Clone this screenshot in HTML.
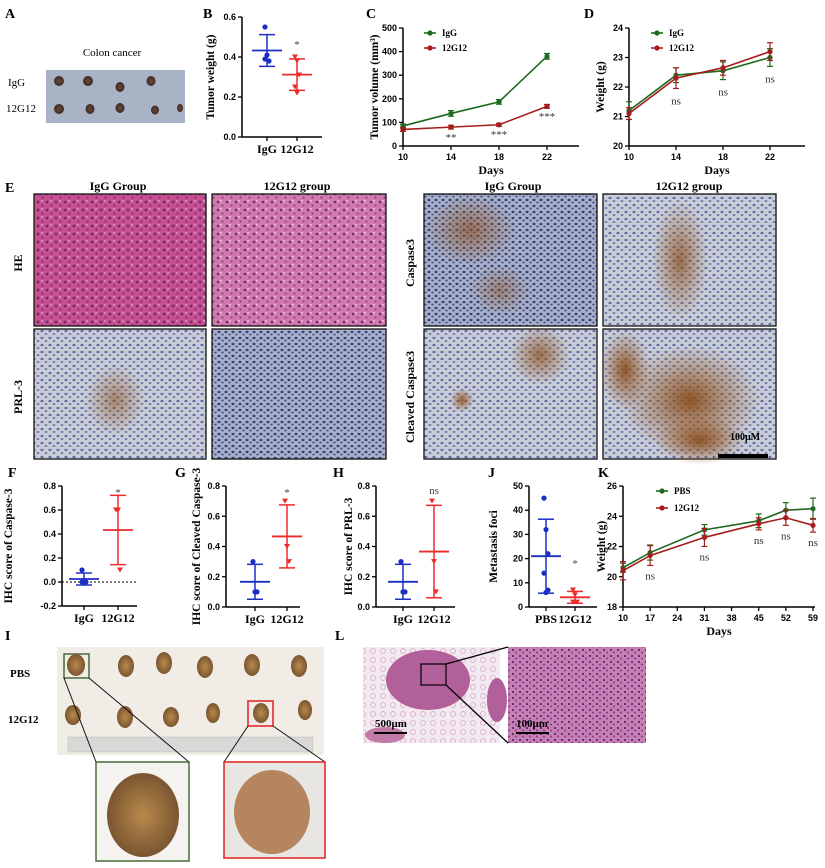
<!DOCTYPE html>
<html><head><meta charset="utf-8"><style>
html,body{margin:0;padding:0;background:#fff;}
svg{display:block;font-family:"Liberation Serif",serif;}
.lbl{font-weight:bold;font-size:14px;}
.tk{font-family:"Liberation Sans",sans-serif;font-weight:bold;font-size:9px;}
.tt{font-weight:bold;font-size:11.5px;}
.gl{font-weight:bold;font-size:12px;}
</style></head><body>
<svg id="fig" width="825" height="868" viewBox="0 0 825 868" xmlns="http://www.w3.org/2000/svg">
<defs>
<pattern id="heP" width="9" height="8" patternUnits="userSpaceOnUse"><rect width="9" height="8" fill="#c9508f"/><circle cx="2" cy="2" r="1.4" fill="#6a2a78"/><circle cx="6.5" cy="5.5" r="1.2" fill="#7d3488"/><circle cx="6" cy="1" r="0.8" fill="#f2c6dc"/></pattern>
<pattern id="he2P" width="9" height="8" patternUnits="userSpaceOnUse"><rect width="9" height="8" fill="#d27aad"/><circle cx="2" cy="2" r="1.3" fill="#6a2a78"/><circle cx="6.5" cy="5.5" r="1.1" fill="#86428f"/><circle cx="5" cy="1" r="0.9" fill="#f4d3e4"/></pattern>
<pattern id="ihcP" width="8" height="7" patternUnits="userSpaceOnUse"><rect width="8" height="7" fill="#c9ccd6"/><ellipse cx="2" cy="2" rx="1.6" ry="1.1" fill="#5a6ea8"/><ellipse cx="6" cy="5" rx="1.4" ry="1" fill="#6a7db2"/></pattern>
<pattern id="ihc2P" width="7" height="6" patternUnits="userSpaceOnUse"><rect width="7" height="6" fill="#a9b0c8"/><ellipse cx="2" cy="2" rx="1.6" ry="1.2" fill="#33447e"/><ellipse cx="5.5" cy="4.5" rx="1.3" ry="1" fill="#44558f"/></pattern>
<pattern id="lungP" width="10" height="9" patternUnits="userSpaceOnUse"><rect width="10" height="9" fill="#f3e9f0"/><circle cx="3" cy="3" r="2.5" fill="none" stroke="#d7a6c6" stroke-width="0.7"/></pattern>
<pattern id="hiP" width="7" height="6" patternUnits="userSpaceOnUse"><rect width="7" height="6" fill="#c880b4"/><circle cx="2" cy="2" r="1.1" fill="#5b2a70"/><circle cx="5" cy="4.5" r="1" fill="#7a3a88"/></pattern>
<radialGradient id="brownG"><stop offset="0" stop-color="#8a4e1f" stop-opacity="0.95"/><stop offset="1" stop-color="#a0642e" stop-opacity="0"/></radialGradient>
<radialGradient id="tumG"><stop offset="0" stop-color="#6a4a3c"/><stop offset="1" stop-color="#3d2a22"/></radialGradient>
<radialGradient id="liverG"><stop offset="0" stop-color="#b98a4c"/><stop offset="1" stop-color="#7a5530"/></radialGradient>
</defs>

<!-- Panel A -->
<text class="lbl" x="5" y="18">A</text>
<text x="112" y="56" font-size="11" text-anchor="middle">Colon cancer</text>
<rect x="46" y="70" width="139" height="53" fill="#a8b4c6"/>
<g fill="url(#tumG)">
<ellipse cx="59" cy="81" rx="5" ry="5"/><ellipse cx="88" cy="81" rx="5" ry="5"/><ellipse cx="120" cy="87" rx="4.5" ry="5"/><ellipse cx="151" cy="81" rx="4.5" ry="5"/>
<ellipse cx="59" cy="109" rx="5" ry="5"/><ellipse cx="90" cy="109" rx="4.5" ry="5"/><ellipse cx="120" cy="108" rx="4.5" ry="5"/><ellipse cx="155" cy="110" rx="4" ry="4.5"/><ellipse cx="180" cy="108" rx="3" ry="4"/>
</g>
<text x="8" y="86" font-size="11">IgG</text>
<text x="6" y="112" font-size="11">12G12</text>

<text class="lbl" x="203" y="18">B</text>
<text class="lbl" x="366" y="18">C</text>
<text class="lbl" x="584" y="18">D</text>

<!-- Panel E -->
<text class="lbl" x="5" y="192">E</text>
<g class="gl" text-anchor="middle" font-size="11">
<text x="118" y="190">IgG Group</text>
<text x="297" y="190">12G12 group</text>
<text x="513" y="190">IgG Group</text>
<text x="689" y="190">12G12 group</text>
</g>
<g class="gl" text-anchor="middle" font-size="11">
<text transform="translate(22,263) rotate(-90)">HE</text>
<text transform="translate(22,397) rotate(-90)">PRL-3</text>
<text transform="translate(414,263) rotate(-90)">Caspase3</text>
<text transform="translate(414,397) rotate(-90)">Cleaved Caspase3</text>
</g>
<g stroke="#111" stroke-width="1.3">
<rect x="34" y="194" width="172" height="132" fill="url(#heP)"/>
<rect x="212" y="194" width="174" height="132" fill="url(#he2P)"/>
<rect x="34" y="329" width="172" height="130" fill="url(#ihcP)"/>
<rect x="212" y="329" width="174" height="130" fill="url(#ihc2P)"/>
<rect x="424" y="194" width="173" height="132" fill="url(#ihc2P)"/>
<rect x="603" y="194" width="173" height="132" fill="url(#ihcP)"/>
<rect x="424" y="329" width="173" height="130" fill="url(#ihcP)"/>
<rect x="603" y="329" width="173" height="130" fill="url(#ihcP)"/>
</g>
<g fill="url(#brownG)">
<ellipse cx="115" cy="400" rx="30" ry="35" opacity="0.6"/>
<ellipse cx="470" cy="230" rx="45" ry="35" opacity="0.7"/><ellipse cx="500" cy="290" rx="30" ry="25" opacity="0.5"/>
<ellipse cx="680" cy="260" rx="28" ry="60" opacity="0.8"/>
<ellipse cx="540" cy="355" rx="30" ry="30" opacity="0.8"/><ellipse cx="462" cy="400" rx="12" ry="12" opacity="0.9"/>
<ellipse cx="690" cy="400" rx="70" ry="55"/><ellipse cx="625" cy="370" rx="25" ry="40"/><ellipse cx="700" cy="440" rx="45" ry="25"/>
</g>
<text x="745" y="440" font-size="10" font-weight="bold" text-anchor="middle">100μM</text>
<rect x="718" y="454" width="50" height="4" fill="#000"/>

<text class="lbl" x="8" y="477">F</text>
<text class="lbl" x="175" y="477">G</text>
<text class="lbl" x="333" y="477">H</text>
<text class="lbl" x="488" y="477">J</text>
<text class="lbl" x="598" y="477">K</text>

<!-- Panel I -->
<text class="lbl" x="5" y="640">I</text>
<text class="lbl" x="335" y="640">L</text>
<text x="10" y="677" font-size="11" font-weight="bold">PBS</text>
<text x="8" y="723" font-size="11" font-weight="bold">12G12</text>
<rect x="57" y="647" width="267" height="108" fill="#f1ece6"/>
<rect x="68" y="737" width="245" height="15" fill="#d8d8d6" stroke="#bbb" stroke-width="0.5"/>
<g fill="url(#liverG)">
<ellipse cx="76" cy="665" rx="9" ry="11"/><ellipse cx="126" cy="666" rx="8" ry="11"/><ellipse cx="164" cy="663" rx="8" ry="11"/><ellipse cx="205" cy="667" rx="8" ry="11"/><ellipse cx="252" cy="665" rx="8" ry="11"/><ellipse cx="299" cy="666" rx="8" ry="11"/>
<ellipse cx="73" cy="715" rx="8" ry="10"/><ellipse cx="125" cy="717" rx="8" ry="11"/><ellipse cx="171" cy="717" rx="8" ry="10"/><ellipse cx="213" cy="713" rx="7" ry="10"/><ellipse cx="261" cy="713" rx="8" ry="10"/><ellipse cx="305" cy="710" rx="7" ry="10"/>
</g>
<rect x="64" y="654" width="25" height="24" fill="none" stroke="#4a6a3a" stroke-width="1.5"/>
<rect x="248" y="701" width="25" height="25" fill="none" stroke="#e02020" stroke-width="1.5"/>
<g stroke="#111" stroke-width="1">
<line x1="64" y1="678" x2="96" y2="762"/><line x1="89" y1="678" x2="189" y2="762"/>
<line x1="248" y1="726" x2="224" y2="762"/><line x1="273" y1="726" x2="325" y2="762"/>
</g>
<rect x="96" y="762" width="93" height="99" fill="#f5f3f0" stroke="#4a6a3a" stroke-width="1.5"/>
<ellipse cx="143" cy="815" rx="36" ry="42" fill="url(#liverG)"/>
<rect x="224" y="762" width="101" height="96" fill="#e8e6e3" stroke="#e02020" stroke-width="1.5"/>
<ellipse cx="272" cy="812" rx="38" ry="42" fill="#b58560"/>

<!-- Panel L -->
<rect x="363" y="647" width="137" height="96" fill="url(#lungP)"/>
<ellipse cx="428" cy="680" rx="42" ry="30" fill="#b2609a"/>
<ellipse cx="497" cy="700" rx="10" ry="22" fill="#b2609a"/>
<ellipse cx="385" cy="735" rx="20" ry="8" fill="#c27aa8"/>
<rect x="508" y="647" width="138" height="96" fill="url(#hiP)"/>
<rect x="421" y="664" width="25" height="21" fill="none" stroke="#000" stroke-width="1.2"/>
<g stroke="#000" stroke-width="1.2"><line x1="446" y1="664" x2="508" y2="647"/><line x1="446" y1="685" x2="508" y2="743"/></g>
<text x="391" y="727" font-size="11" font-weight="bold" text-anchor="middle">500μm</text>
<rect x="374" y="732" width="33" height="2" fill="#000"/>
<text x="532" y="727" font-size="11" font-weight="bold" text-anchor="middle">100μm</text>
<rect x="516" y="732" width="33" height="2" fill="#000"/>
</svg>
<script>
// ---- data ----
const bGroups = ["IgG","12G12"];
const bIgG = [0.55,0.41,0.38,0.39];
const b12G12 = [0.40,0.38,0.31,0.25,0.22];
const bTicks = [0,0.2,0.4,0.6];

const cDays = [10,14,18,22];
const cIgG = [85,138,187,380];
const cIgGErr = [8,12,10,12];
const c12G12 = [70,80,90,168];
const c12G12Err = [8,8,6,8];
const cTicks = [0,100,200,300,400,500];
const cStars = ["","**","***","***"];

const dDays = [10,14,18,22];
const dIgG = [21.2,22.4,22.55,23.0];
const dIgGErr = [0.3,0.25,0.3,0.3];
const d12G12 = [21.1,22.3,22.65,23.2];
const d12G12Err = [0.2,0.35,0.25,0.3];
const dTicks = [20,21,22,23,24];
const dStars = ["","ns","ns","ns"];

const fIgG = [0.1,0.0,0.0,0.0];
const f12G12 = [0.6,0.6,0.1];
const fTicks = [-0.2,0,0.2,0.4,0.6,0.8];
const gIgG = [0.3,0.1,0.1];
const g12G12 = [0.7,0.4,0.3];
const gTicks = [0,0.2,0.4,0.6,0.8];
const hIgG = [0.3,0.1,0.1];
const h12G12 = [0.7,0.3,0.1];
const hTicks = [0,0.2,0.4,0.6,0.8];
const jGroups = ["PBS","12G12"];
const jPBS = [45,32,22,14,6,7];
const j12G12 = [7,5,2,2];
const jTicks = [0,10,20,30,40,50];

const kDays = [10,17,31,45,52,59];
const kPBS = [20.6,21.6,23.1,23.7,24.4,24.5];
const kPBSErr = [0.3,0.5,0.35,0.45,0.5,0.7];
const k12G12 = [20.4,21.4,22.6,23.5,23.9,23.4];
const k12G12Err = [0.6,0.65,0.6,0.4,0.5,0.45];
const kTicks = [18,20,22,24,26];
const kXTicks = [10,17,24,31,38,45,52,59];
const kStars = ["","ns","ns","ns","ns","ns"];

// ---- helpers ----
const NS="http://www.w3.org/2000/svg";
const fig=document.getElementById('fig');
function mk(tag,attrs,parent){const e=document.createElementNS(NS,tag);for(const k in attrs)e.setAttribute(k,attrs[k]);(parent||fig).appendChild(e);return e;}
function txt(s,attrs,parent){const e=mk('text',attrs,parent);e.textContent=s;return e;}
function mean(a){return a.reduce((s,v)=>s+v,0)/a.length;}
function sd(a){const m=mean(a);return Math.sqrt(a.reduce((s,v)=>s+(v-m)*(v-m),0)/(a.length-1));}

function yAxis(g,ax,yTop,yBot,vmin,vmax,ticks,fmt){
  const Y=v=>yBot-(v-vmin)/(vmax-vmin)*(yBot-yTop);
  mk('line',{x1:ax,y1:yTop,x2:ax,y2:yBot,stroke:'#000','stroke-width':1.5},g);
  ticks.forEach(t=>{
    mk('line',{x1:ax-4,y1:Y(t),x2:ax,y2:Y(t),stroke:'#000','stroke-width':1.3},g);
    const l=txt(fmt(t),{x:ax-6,y:Y(t)+3,'text-anchor':'end',class:'tk'},g);
    
    
  });
  return Y;
}

function dotChart(name,o){
  const g=mk('g',{});
  
  
  const Y=yAxis(g,o.ax,o.yTop,o.yBot,o.vmin,o.vmax,o.ticks,o.fmt);
  mk('line',{x1:o.ax,y1:o.yBot,x2:o.xEnd,y2:o.yBot,stroke:'#000','stroke-width':1.5},g);
  const tt=txt(o.title,{transform:`translate(${o.tx},${(o.yTop+o.yBot)/2}) rotate(-90)`,'text-anchor':'middle',class:'tt'},g);
  
  
  if(o.zero){mk('line',{x1:o.ax,y1:Y(0),x2:o.xEnd,y2:Y(0),stroke:'#000','stroke-width':1,'stroke-dasharray':'2,2'},g);}
  o.series.forEach((s,i)=>{
    const x=o.xs[i];
    mk('line',{x1:x,y1:o.yBot,x2:x,y2:o.yBot+4,stroke:'#000','stroke-width':1.3},g);
    const gl=txt(o.groups[i],{x:x,y:o.yBot+16,'text-anchor':'middle',class:'gl'},g);
    
    
    const c=o.colors[i];
    s.forEach((v,k)=>{
      const dx=((k%3)-1)*2;
      let p;
      if(i===0){p=mk('circle',{cx:x+dx,cy:Y(v),r:2.6,fill:c},g);}
      else{const yy=Y(v);p=mk('path',{d:`M${x+dx-3},${yy-2.5}L${x+dx+3},${yy-2.5}L${x+dx},${yy+2.5}Z`,fill:c},g);}
      
      
    });
    const m=mean(s),d=sd(s);
    const mn=mk('line',{x1:x-15,y1:Y(m),x2:x+15,y2:Y(m),stroke:c,'stroke-width':1.8},g);
    
    
    mk('line',{x1:x,y1:Y(m+d),x2:x,y2:Y(m-d),stroke:c,'stroke-width':1.5},g);
    mk('line',{x1:x-8,y1:Y(m+d),x2:x+8,y2:Y(m+d),stroke:c,'stroke-width':1.5},g);
    mk('line',{x1:x-8,y1:Y(m-d),x2:x+8,y2:Y(m-d),stroke:c,'stroke-width':1.5},g);
  });
  if(o.sig){const s=txt(o.sig,{x:o.xs[1],y:o.sigY,'text-anchor':'middle','font-size':11,fill:'#444'},g);
    
    }
}

function lineChart(name,o){
  const g=mk('g',{});
  
  
  const Y=yAxis(g,o.ax,o.yTop,o.yBot,o.vmin,o.vmax,o.ticks,o.fmt);
  const X=d=>o.ax+(d-o.dmin)/(o.dmax-o.dmin)*(o.xMaxPx-o.ax);
  mk('line',{x1:o.ax,y1:o.yBot,x2:o.xEnd,y2:o.yBot,stroke:'#000','stroke-width':1.5},g);
  o.xticks.forEach(t=>{
    mk('line',{x1:X(t),y1:o.yBot,x2:X(t),y2:o.yBot+4,stroke:'#000','stroke-width':1.3},g);
    const l=txt(String(t),{x:Math.min(X(t),818),y:o.yBot+14,'text-anchor':'middle',class:'tk'},g);
    
    
  });
  const xt=txt('Days',{x:(o.ax+o.xEnd)/2,y:o.yBot+28,'text-anchor':'middle',class:'gl'},g);
  
  
  const tt=txt(o.title,{transform:`translate(${o.tx},${(o.yTop+o.yBot)/2}) rotate(-90)`,'text-anchor':'middle',class:'tt'},g);
  
  
  o.series.forEach((s,i)=>{
    const c=o.colors[i];
    const pts=s.vals.map((v,k)=>X(o.days[k])+','+Y(v)).join(' ');
    const pl=mk('polyline',{points:pts,fill:'none',stroke:c,'stroke-width':1.6},g);
    
    
    s.vals.forEach((v,k)=>{
      const x=X(o.days[k]),e=s.err[k];
      mk('line',{x1:x,y1:Y(v+e),x2:x,y2:Y(v-e),stroke:c,'stroke-width':1.2},g);
      mk('line',{x1:x-3,y1:Y(v+e),x2:x+3,y2:Y(v+e),stroke:c,'stroke-width':1.2},g);
      mk('line',{x1:x-3,y1:Y(v-e),x2:x+3,y2:Y(v-e),stroke:c,'stroke-width':1.2},g);
      const p=mk('circle',{cx:x,cy:Y(v),r:2.6,fill:c},g);
      
      
    });
    const ly=o.legY+i*o.legGap;
    mk('line',{x1:o.legX,y1:ly,x2:o.legX+12,y2:ly,stroke:c,'stroke-width':1.6},g);
    mk('circle',{cx:o.legX+6,cy:ly,r:2.6,fill:c},g);
    const lt=txt(s.name,{x:o.legX+18,y:ly+3,'font-size':9,'font-weight':'bold'},g);
    
    
  });
  o.stars.forEach((s,k)=>{
    if(!s)return;
    const v=Math.min(o.series[0].vals[k]-o.series[0].err[k],o.series[1].vals[k]-o.series[1].err[k]);
    const st=txt(s,{x:X(o.days[k])+(o.starDx||0),y:Y(v)+o.starOff,'text-anchor':'middle','font-size':11,fill:'#333'},g);
    
    
  });
}

const f1=v=>v.toFixed(1);
const f0=v=>String(v);
const BLUE='#1c2fc4',RED='#ee2a2a',GREEN='#1e6a1e',DRED='#a61c1c';

dotChart('chart-b-tumor-weight',{ax:242,yTop:17,yBot:137,vmin:0,vmax:0.6,ticks:bTicks,fmt:f1,xEnd:322,xs:[267,297],groups:bGroups,series:[bIgG,b12G12],colors:[BLUE,RED],title:'Tumor weight (g)',tx:214,sig:'*',sigY:48});
lineChart('chart-c-tumor-volume',{ax:403,yTop:28,yBot:146,vmin:0,vmax:500,ticks:cTicks,fmt:f0,dmin:10,dmax:22,xMaxPx:547,xEnd:579,xticks:cDays,days:cDays,
  series:[{name:'IgG',vals:cIgG,err:cIgGErr},{name:'12G12',vals:c12G12,err:c12G12Err}],colors:[GREEN,DRED],title:'Tumor volume (mm³)',tx:378,legX:424,legY:33,legGap:15,stars:cStars,starOff:12});
lineChart('chart-d-body-weight',{ax:629,yTop:28,yBot:146,vmin:20,vmax:24,ticks:dTicks,fmt:f0,dmin:10,dmax:22,xMaxPx:770,xEnd:805,xticks:dDays,days:dDays,
  series:[{name:'IgG',vals:dIgG,err:dIgGErr},{name:'12G12',vals:d12G12,err:d12G12Err}],colors:[GREEN,DRED],title:'Weight (g)',tx:604,legX:651,legY:33,legGap:15,stars:dStars,starOff:16});

dotChart('chart-f-caspase3',{ax:62,yTop:486,yBot:606,vmin:-0.2,vmax:0.8,ticks:fTicks,fmt:f1,xEnd:137,xs:[84,118],groups:bGroups,series:[fIgG,f12G12],colors:[BLUE,RED],title:'IHC score of  Caspase-3',tx:12,sig:'*',sigY:496,zero:true});
dotChart('chart-g-cleaved-caspase3',{ax:226,yTop:486,yBot:607,vmin:0,vmax:0.8,ticks:gTicks,fmt:f1,xEnd:300,xs:[255,287],groups:bGroups,series:[gIgG,g12G12],colors:[BLUE,RED],title:'IHC score of Cleaved Caspase-3',tx:200,sig:'*',sigY:496});
dotChart('chart-h-prl3',{ax:376,yTop:486,yBot:607,vmin:0,vmax:0.8,ticks:hTicks,fmt:f1,xEnd:455,xs:[403,434],groups:bGroups,series:[hIgG,h12G12],colors:[BLUE,RED],title:'IHC score of  PRL-3',tx:352,sig:'ns',sigY:494});
dotChart('chart-j-metastasis',{ax:529,yTop:486,yBot:607,vmin:0,vmax:50,ticks:jTicks,fmt:f0,xEnd:597,xs:[546,575],groups:jGroups,series:[jPBS,j12G12],colors:[BLUE,RED],title:'Metastasis foci',tx:497,sig:'*',sigY:567});
lineChart('chart-k-body-weight',{ax:623,yTop:486,yBot:607,vmin:18,vmax:26,ticks:kTicks,fmt:f0,dmin:10,dmax:59,xMaxPx:813,xEnd:815,xticks:kXTicks,days:kDays,
  series:[{name:'PBS',vals:kPBS,err:kPBSErr},{name:'12G12',vals:k12G12,err:k12G12Err}],colors:[GREEN,DRED],title:'Weight (g)',tx:605,legX:656,legY:491,legGap:17,stars:kStars,starOff:14});
</script>
</body></html>
